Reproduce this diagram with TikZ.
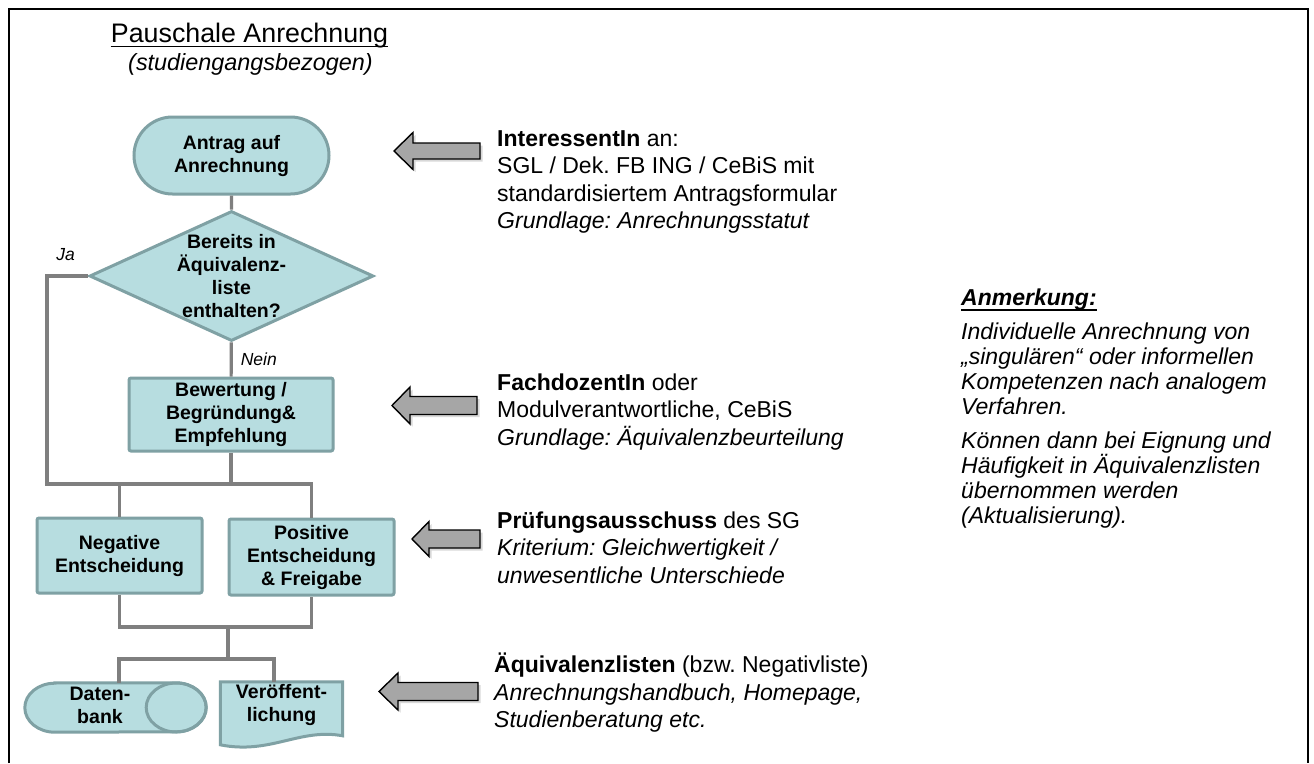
\documentclass[tikz,border=0pt]{standalone}
\usepackage{fontspec}
\setmainfont{Liberation Sans}
\usetikzlibrary{shapes.geometric,shapes.misc,shadows}
\definecolor{boxfill}{HTML}{B7DDE0}
\definecolor{boxline}{HTML}{7FA1A4}
\definecolor{connc}{HTML}{7F7F7F}
\definecolor{arrfill}{HTML}{A6A6A6}
\frenchspacing
\newcommand\fcfont{\fontsize{19.5}{23}\selectfont\bfseries\lineskiplimit=-20pt}
\newcommand\rtfont{\fontsize{23}{27.5}\selectfont\lineskiplimit=-20pt}
\newcommand\anfont{\fontsize{23}{25}\selectfont\lineskiplimit=-20pt}
\newcommand\lblfont{\fontsize{17.5}{20}\selectfont\itshape}
\begin{document}
\begin{tikzpicture}[x=1pt,y=1pt,
  fc/.style={draw=boxline, fill=boxfill, line width=3pt, font=\fcfont, align=center, inner sep=0pt},
  fcbox/.style={fc, rectangle, rounded corners=2pt},
  conn/.style={draw=connc, line width=3.2pt},
  barr/.style={fill=arrfill, draw=black, line width=1.4pt, line join=miter,
    drop shadow={shadow xshift=2.5pt, shadow yshift=-2.5pt, opacity=0.3}},
  rtxt/.style={font=\rtfont, align=left, inner sep=0pt, anchor=north west},
  lbl/.style={font=\lblfont, inner sep=0pt}]
\useasboundingbox (0,0) rectangle (1314,-763);
\fill[white] (0,0) rectangle (1314,-763);
\draw[line width=2.5pt] (9,-763) -- (9,-9) -- (1308,-9) -- (1308,-763);

% title
\node[font=\fontsize{26.8}{30}\selectfont, anchor=base, inner sep=0pt] (title) at (249.5,-42.7) {Pauschale Anrechnung};
\draw[line width=1.3pt] ([yshift=-4pt]title.base west) -- ([yshift=-4pt]title.base east);
\node[font=\fontsize{23.4}{26}\selectfont\itshape, anchor=base, inner sep=0pt] (sub) at (250.5,-70) {(studiengangsbezogen)};

% flowchart nodes
\node[fc, rounded rectangle, minimum width=195pt, minimum height=77pt] (ant) at (231.5,-155.5) {Antrag auf\\Anrechnung};
\node[fc, diamond, minimum width=284pt, minimum height=130pt,
  label={[font=\fcfont, align=center]center:Bereits in\\Äquivalenz-\\liste\\enthalten?}] (dia) at (231.5,-276) {};
\node[fcbox, minimum width=204pt, minimum height=73pt] (bew) at (231,-414.5) {Bewertung /\\Begründung\&\\Empfehlung};
\node[fcbox, minimum width=165pt, minimum height=75pt] (neg) at (119.5,-555.5) {Negative\\Entscheidung};
\node[fcbox, minimum width=165pt, minimum height=76pt] (pos) at (311.5,-557) {Positive\\Entscheidung\\\& Freigabe};

% Datenbank (horizontal drum)
\node[minimum width=181pt, minimum height=49pt, inner sep=0pt] (db) at (115.5,-707.5) {};
\filldraw[draw=boxline, fill=boxfill, line width=3pt]
  ([xshift=30pt]db.north west) -- ([xshift=-30pt]db.north east)
  arc[start angle=90, end angle=-90, x radius=30pt, y radius=24.5pt]
  -- ([xshift=30pt]db.south west)
  arc[start angle=270, end angle=90, x radius=30pt, y radius=24.5pt] -- cycle;
\draw[draw=boxline, line width=3pt] ([xshift=-30pt]db.east) ellipse[x radius=30pt, y radius=24.5pt];
\node[font=\fcfont, align=center, inner sep=0pt] (dbt) at ([xshift=-15.5pt,yshift=2pt]db.center) {Daten-\\bank};

% Veroeffentlichung (document)
\node[minimum width=122pt, minimum height=64pt, inner sep=0pt] (pub) at (281.5,-714) {};
\filldraw[draw=boxline, fill=boxfill, line width=3pt]
  (pub.north west) -- (pub.north east) -- ([yshift=-54pt]pub.north east)
  .. controls +(-43pt,8pt) and +(50pt,-10pt) .. ([yshift=-63pt]pub.north west) -- cycle;
\node[font=\fcfont, align=center, inner sep=0pt] (pubt) at ([yshift=-23pt]pub.north) {Veröffent-\\lichung};

% connectors
\coordinate (jl) at (47,-484);
\coordinate (jm) at (228,-627);
\coordinate (jb) at (228,-659);
\draw[conn] (ant) -- (dia);
\draw[conn] (dia) -- (bew) node[lbl, pos=0.5, anchor=west, xshift=8pt] (nein) {Nein};
\draw[conn] (dia.west) -| node[lbl, pos=0.25, anchor=south, xshift=-2pt, yshift=14pt] (ja) {Ja} (jl) -| (pos.north);
\draw[conn] (bew) -- (bew.south |- jl);
\draw[conn] (neg) -- (neg.north |- jl);
\draw[conn] (neg.south) |- (jm) -| (pos.south);
\draw[conn] (jm) -- (jb);
\draw[conn] (jb) -| ([xshift=3.5pt]db.north);
\draw[conn] (jb) -| ([xshift=-7.5pt]pub.north);

% block arrows
\filldraw[barr] (394,-151) -- (413,-132.5) -- (413,-143) -- (480,-143) -- (480,-159) -- (413,-159) -- (413,-169.5) -- cycle;
\filldraw[barr] (392,-405.5) -- (410,-387) -- (410,-396.5) -- (477,-396.5) -- (477,-414.5) -- (410,-414.5) -- (410,-424) -- cycle;
\filldraw[barr] (412,-539) -- (429,-521.5) -- (429,-530) -- (480,-530) -- (480,-548) -- (429,-548) -- (429,-556.5) -- cycle;
\filldraw[barr] (379,-691.5) -- (398,-673) -- (398,-682.5) -- (478,-682.5) -- (478,-700.5) -- (398,-700.5) -- (398,-710) -- cycle;

% right texts
\node[rtxt] (t1) at (497,-128) {\rule{0pt}{18pt}\textbf{InteressentIn} an:\\SGL / Dek. FB ING / CeBiS mit\\standardisiertem Antragsformular\\\textit{Grundlage: Anrechnungsstatut}};
\node[rtxt] (t2) at (497,-372) {\rule{0pt}{18pt}\textbf{FachdozentIn} oder\\Modulverantwortliche, CeBiS\\\textit{Grundlage: Äquivalenzbeurteilung}};
\node[rtxt] (t3) at (497,-510) {\rule{0pt}{18pt}\textbf{Prüfungsausschuss} des SG\\\textit{Kriterium: Gleichwertigkeit /}\\\textit{unwesentliche Unterschiede}};
\node[rtxt] (t4) at (494,-653) {\rule{0pt}{18pt}\textbf{Äquivalenzlisten} (bzw. Negativliste)\\\textit{Anrechnungshandbuch, Homepage,}\\\textit{Studienberatung etc.}};

% Anmerkung
\node[font=\fontsize{23}{25}\selectfont\bfseries\itshape, anchor=base west, inner sep=0pt] (anm) at (961,-305) {Anmerkung:};
\draw[line width=1.5pt] ([yshift=-5pt]anm.base west) -- ([yshift=-5pt]anm.base east);
\node[font=\anfont\itshape, align=left, inner sep=0pt, anchor=north west] (note) at (961,-321) {\rule{0pt}{18pt}Individuelle Anrechnung von\\„singulären“ oder informellen\\Kompetenzen nach analogem\\Verfahren.\\[9pt]Können dann bei Eignung und\\Häufigkeit in Äquivalenzlisten\\übernommen werden\\(Aktualisierung).};
\end{tikzpicture}
\end{document}
